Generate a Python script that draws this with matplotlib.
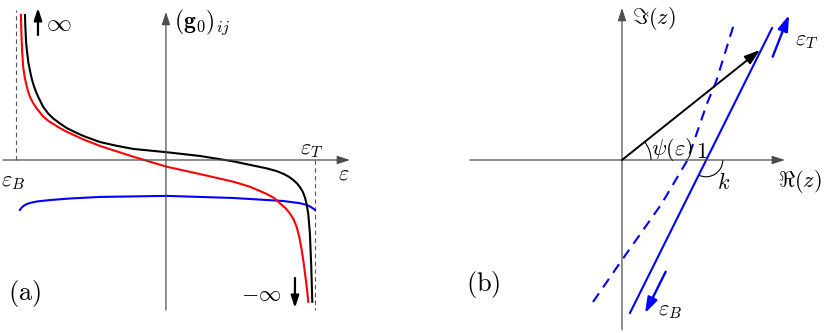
import numpy as np
import matplotlib.pyplot as plt
from matplotlib.patches import Arc

plt.rcParams['mathtext.fontset'] = 'cm'
plt.rcParams['font.family'] = ['DejaVu Serif']

# =========================
# Panel (a): (g0)_ij against energy, eps_B = -1, eps_T = 1
# =========================

black_eps = [-0.943, -0.940, -0.935, -0.928, -0.920, -0.910, -0.898, -0.885, -0.870, -0.854,
             -0.821, -0.787, -0.754, -0.710, -0.664, -0.610, -0.553, -0.441, -0.330, -0.219,
             0.005, 0.227, 0.450, 0.674, 0.740, 0.785, 0.822, 0.852, 0.876, 0.896,
             0.914, 0.930, 0.942, 0.952, 0.963, 0.972, 0.979]
black_g = [0.970, 0.880, 0.780, 0.716, 0.650, 0.600, 0.545, 0.500, 0.458, 0.421,
           0.355, 0.310, 0.278, 0.245, 0.214, 0.187, 0.161, 0.120, 0.095, 0.074,
           0.052, 0.027, -0.009, -0.056, -0.074, -0.092, -0.112, -0.134, -0.156, -0.181,
           -0.210, -0.250, -0.300, -0.360, -0.490, -0.714, -0.948]

red_eps = [-0.970, -0.967, -0.962, -0.955, -0.946, -0.936, -0.924, -0.910, -0.888, -0.865,
           -0.821, -0.787, -0.754, -0.710, -0.664, -0.553, -0.441, -0.219, 0.005, 0.227,
           0.450, 0.562, 0.674, 0.725, 0.763, 0.800, 0.829, 0.854, 0.874, 0.892,
           0.908, 0.920, 0.930, 0.942, 0.952]
red_g = [0.970, 0.850, 0.730, 0.624, 0.560, 0.513, 0.465, 0.423, 0.380, 0.346,
         0.290, 0.262, 0.241, 0.214, 0.189, 0.138, 0.094, 0.022, -0.045, -0.094,
         -0.145, -0.179, -0.227, -0.255, -0.290, -0.322, -0.357, -0.398, -0.446, -0.515,
         -0.602, -0.680, -0.758, -0.850, -0.948]

blue_eps = [-0.977, -0.965, -0.950, -0.930, -0.900, -0.860, -0.776, -0.650, -0.441, 0.005,
            0.448, 0.783, 0.896, 0.940, 0.970, 0.997]
blue_g = [-0.334, -0.318, -0.305, -0.294, -0.285, -0.277, -0.268, -0.258, -0.247, -0.240,
          -0.254, -0.274, -0.289, -0.300, -0.314, -0.334]

eps_B, eps_T = -1.0, 1.0

# =========================
# Panel (b): complex plane, unit = Re(z) crossing "1"
# =========================

solid_re = [0.095, 1.786]
solid_im = [-1.821, 1.571]

dashed_re = [-0.345, 0.0, 0.470, 0.780, 1.010, 1.119, 1.333]
dashed_im = [-1.690, -1.190, -0.524, 0.0, 0.667, 0.929, 1.619]

vec_tip = (1.643, 1.310)
psi_deg = np.degrees(np.arctan2(vec_tip[1], vec_tip[0]))
k_deg = np.degrees(np.arctan2(solid_im[0] - solid_im[1], solid_re[0] - solid_re[1]))

fs = 16
axis_col = '#4d4d4d'


def arrow(ax, start, tip, color='k', lw=1.0, ms=14):
    ax.annotate('', xy=tip, xytext=start,
                arrowprops=dict(arrowstyle='-|>,head_length=0.55,head_width=0.18',
                                color=color, lw=lw, shrinkA=0, shrinkB=0,
                                mutation_scale=ms))


fig = plt.figure(figsize=(8.3, 3.33), dpi=100)

# ----- (a) -----
ax = fig.add_axes([0, 0, 0.5, 1])
ax.set_xlim(-1.110, 1.666)
ax.set_ylim(-1.157, 1.070)
ax.axis('off')

arrow(ax, (-1.09, 0), (1.231, 0), color=axis_col, lw=0.9)
arrow(ax, (0, -1.003), (0, 0.99), color=axis_col, lw=0.9)

ax.plot([eps_B, eps_B], [0, 1.003], color='#555555', lw=0.8, dashes=(4, 3))
ax.plot([eps_T, eps_T], [0, -1.003], color='#555555', lw=0.8, dashes=(4, 3))

ax.plot(blue_eps, blue_g, color='blue', lw=1.5)
ax.plot(red_eps, red_g, color='red', lw=1.5)
ax.plot(black_eps, black_g, color='black', lw=1.5)

arrow(ax, (-0.856, 0.836), (-0.856, 1.017), lw=1.6, ms=13)
arrow(ax, (0.863, -0.789), (0.863, -0.990), lw=1.6, ms=13)

ax.text(-0.800, 0.912, r'$\infty$', fontsize=fs + 2, va='center', ha='left')
ax.text(0.055, 0.923, r'$(\mathbf{g}_0)_{ij}$', fontsize=fs + 1, va='center', ha='left')
ax.text(0.900, 0.075, r'$\varepsilon_T$', fontsize=fs, va='center', ha='left')
ax.text(1.148, -0.087, r'$\varepsilon$', fontsize=fs, va='center', ha='left')
ax.text(-1.100, -0.140, r'$\varepsilon_B$', fontsize=fs, va='center', ha='left')
ax.text(-1.055, -0.890, r'$\mathrm{(a)}$', fontsize=fs + 3, va='center', ha='left')
ax.text(0.505, -0.903, r'$-\infty$', fontsize=fs, va='center', ha='left')

# ----- (b) -----
bx = fig.add_axes([0.5, 0, 0.5, 1])
bx.set_xlim(-2.464, 2.476)
bx.set_ylim(-2.060, 1.905)
bx.axis('off')

arrow(bx, (-1.81, 0), (1.94, 0), color=axis_col, lw=0.9)
arrow(bx, (0, -2.02), (0, 1.81), color=axis_col, lw=0.9)

bx.plot(dashed_re, dashed_im, color='blue', lw=1.5, dashes=(5, 3.5))
bx.plot(solid_re, solid_im, color='blue', lw=1.5)

arrow(bx, (0, 0), vec_tip, lw=1.4, ms=17)
arrow(bx, (1.794, 1.230), (1.988, 1.726), color='blue', lw=1.7, ms=17)
arrow(bx, (0.520, -1.330), (0.274, -1.825), color='blue', lw=1.7, ms=17)

bx.add_patch(Arc((0, 0), 0.69, 0.69, theta1=0, theta2=psi_deg, color='k', lw=0.8))
bx.add_patch(Arc((1.0, 0), 0.40, 0.40, theta1=k_deg, theta2=0, color='k', lw=0.8))

bx.text(0.125, 1.69, r'$\Im(z)$', fontsize=fs, va='center', ha='left')
bx.text(1.855, -0.262, r'$\Re(z)$', fontsize=fs, va='center', ha='left')
bx.text(0.350, 0.119, r'$\psi(\varepsilon)$', fontsize=fs, va='center', ha='left')
bx.text(0.945, 0.099, r'$1$', fontsize=fs, va='center', ha='center')
bx.text(1.210, -0.274, r'$k$', fontsize=fs, va='center', ha='center')
bx.text(2.06, 1.43, r'$\varepsilon_T$', fontsize=fs, va='center', ha='left')
bx.text(0.429, -1.786, r'$\varepsilon_B$', fontsize=fs, va='center', ha='left')
bx.text(-1.855, -1.488, r'$\mathrm{(b)}$', fontsize=fs + 3, va='center', ha='left')

plt.savefig('out.png', dpi=100)
